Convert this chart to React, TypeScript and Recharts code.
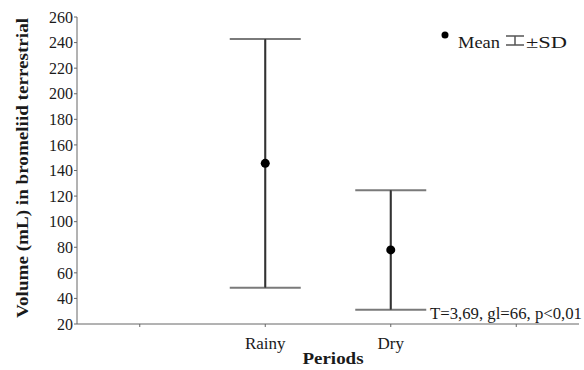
import { ComposedChart, Scatter, ErrorBar, XAxis, YAxis, Customized } from 'recharts'

const periods = ['Rainy', 'Dry']
const positions = [2, 3]
const means = [145.6, 77.9]
const sds = [97.2, 46.7]
const xTicks = [1, 2, 3, 4]
const xTickLabels = ['', 'Rainy', 'Dry', '']
const yTicks = [20, 40, 60, 80, 100, 120, 140, 160, 180, 200, 220, 240, 260]

const data = periods.map((p, i) => ({ period: p, x: positions[i], mean: means[i], sd: sds[i] }))

const serif = '"Liberation Serif", "Times New Roman", serif'

const MeanDot = (props: any) => <circle cx={props.cx} cy={props.cy} r={4.5} fill="#000" />

const Extras = () => (
  <g fontFamily={serif} fill="#1a1a1a">
    <circle cx={445} cy={35} r={3.5} fill="#000" />
    <text x={458} y={48} fontSize={17} textLength={42} lengthAdjust="spacingAndGlyphs">Mean</text>
    <g stroke="#555" strokeWidth={1.5}>
      <line x1={506} y1={36} x2={524} y2={36} />
      <line x1={506} y1={45} x2={524} y2={45} />
      <line x1={515} y1={36} x2={515} y2={45} />
    </g>
    <text x={526} y={48} fontSize={17} textLength={41} lengthAdjust="spacingAndGlyphs">±SD</text>
    <text x={430} y={319} fontSize={16} textLength={152} lengthAdjust="spacingAndGlyphs">
      T=3,69, gl=66, p&lt;0,01
    </text>
    <text
      x={22}
      y={168}
      fontSize={16}
      fontWeight="bold"
      textAnchor="middle"
      transform="rotate(-90 22 168)"
      dominantBaseline="central"
      textLength={300}
      lengthAdjust="spacingAndGlyphs"
    >
      Volume (mL) in bromeliid terrestrial
    </text>
    <text x={333} y={364} fontSize={16} fontWeight="bold" textAnchor="middle" textLength={61} lengthAdjust="spacingAndGlyphs">
      Periods
    </text>
  </g>
)

export default function App() {
  return (
    <div style={{ position: 'absolute', left: 0, top: 0, width: 584, height: 370, background: '#fff' }}>
      <ComposedChart width={584} height={370} data={data} margin={{ top: 17, right: 5, bottom: 0, left: 0 }}>
        <XAxis
          type="number"
          dataKey="x"
          domain={[0.5, 4.5]}
          ticks={xTicks}
          tickFormatter={(v: number) => xTickLabels[xTicks.indexOf(v)] ?? ''}
          height={46}
          tickSize={3}
          stroke="#666"
          tick={{ fontSize: 17, fill: '#1a1a1a', fontFamily: serif, dy: 8 }}
          allowDataOverflow
        />
        <YAxis
          type="number"
          domain={[20, 260]}
          ticks={yTicks}
          interval={0}
          width={77}
          tickSize={3}
          tickMargin={1}
          stroke="#666"
          tick={{ fontSize: 16, fill: '#1a1a1a', fontFamily: serif }}
          allowDataOverflow
        />
        <Scatter dataKey="mean" shape={MeanDot} isAnimationActive={false}>
          <ErrorBar dataKey="sd" direction="y" width={35.5} stroke="#7a7a7a" strokeWidth={2} isAnimationActive={false} />
          <ErrorBar dataKey="sd" direction="y" width={0} stroke="#333" strokeWidth={1.8} isAnimationActive={false} />
        </Scatter>
        <Customized component={Extras} />
      </ComposedChart>
    </div>
  )
}
